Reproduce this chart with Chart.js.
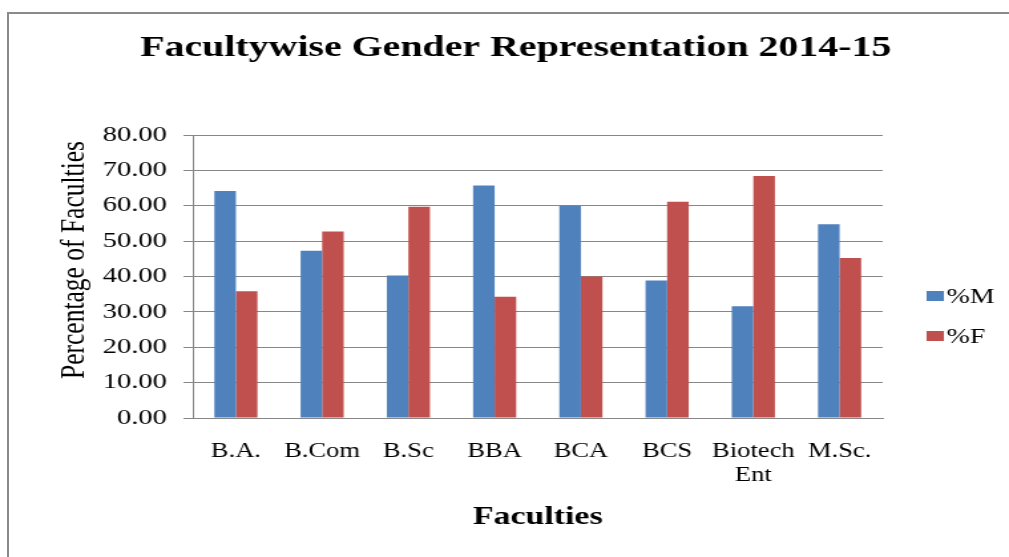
<!DOCTYPE html>
<html>
<head>
<meta charset="utf-8">
<title>Facultywise Gender Representation 2014-15</title>
<script src="https://cdn.jsdelivr.net/npm/chart.js@4.4.1/dist/chart.umd.min.js"></script>
<style>
    html, body { margin: 0; padding: 0; background: #fff; }
    #wrap { position: relative; width: 1009px; height: 557px; overflow: hidden; }
    #frame { position: absolute; left: 7px; top: 12px; width: 1040px; height: 600px; border: 2px solid #8a8a8a; box-sizing: border-box; }
    /* the original picture is a horizontally stretched Excel chart, so the
       canvas is drawn narrower and widened by css */
    #chart { position: absolute; left: 0; top: 0; width: 1009px; height: 557px; }
</style>
</head>
<body>
<div id="wrap">
    <div id="frame"></div>
    <canvas id="chart" width="759" height="557" style="width:1009px;height:557px"></canvas>
</div>
<script>
// Data
const chartTitle = 'Facultywise Gender Representation 2014-15';
const yAxisTitle = 'Percentage of Faculties';
const faculties = ['B.A.', 'B.Com', 'B.Sc', 'BBA', 'BCA', 'BCS', ['Biotech', 'Ent'], 'M.Sc.'];
const malePct = [64.2, 47.3, 40.3, 65.7, 60.0, 38.9, 31.6, 54.8];
const femalePct = [35.8, 52.7, 59.7, 34.3, 40.0, 61.1, 68.4, 45.2];
const seriesLabels = ['%M', '%F'];
const yMin = 0;
const yMax = 80;
const yStep = 10;

const serif = '"Liberation Serif", "Times New Roman", serif';
const gridGray = '#878787';

// Title + y axis title (the y title sits a bit above the plot centre in the original)
const titlePlugin = {
    id: 'titles',
    afterDraw(chart) {
        const ctx = chart.ctx;
        ctx.save();
        ctx.fillStyle = '#000';
        ctx.textAlign = 'center';
        ctx.textBaseline = 'middle';
        ctx.font = 'bold 30px ' + serif;
        ctx.fillText(chartTitle, 388, 48);

        ctx.font = '25.5px ' + serif;
        ctx.translate(56.5, 260);
        ctx.rotate(-Math.PI / 2);
        ctx.fillText(yAxisTitle, 0, 0);
        ctx.restore();
    }
};

// Legend on the right, placed like the original
const legendPlugin = {
    id: 'sideLegend',
    afterDraw(chart) {
        const ctx = chart.ctx;
        ctx.save();
        ctx.font = '21px ' + serif;
        ctx.textBaseline = 'middle';
        chart.data.datasets.forEach((ds, i) => {
            const y = 296 + i * 40;
            ctx.fillStyle = ds.backgroundColor;
            ctx.fillRect(697, y - 5, 13, 10);
            ctx.fillStyle = '#000';
            ctx.fillText(ds.label, 712, y + 1);
        });
        ctx.restore();
    }
};

new Chart(document.getElementById('chart'), {
    type: 'bar',
    data: {
        labels: faculties,
        datasets: [
            { label: seriesLabels[0], data: malePct, backgroundColor: '#4F81BD', borderWidth: 0 },
            { label: seriesLabels[1], data: femalePct, backgroundColor: '#C0504D', borderWidth: 0 }
        ]
    },
    options: {
        responsive: false,
        animation: false,
        layout: { padding: { top: 135, right: 95, left: 0, bottom: 0 } },
        datasets: { bar: { categoryPercentage: 0.5, barPercentage: 1.0 } },
        plugins: {
            legend: { display: false },
            title: { display: false },
            tooltip: { enabled: false }
        },
        scales: {
            x: {
                grid: { display: false },
                border: { display: true, color: gridGray, width: 1 },
                ticks: { color: '#000', font: { family: serif, size: 20 }, padding: 14, maxRotation: 0, autoSkip: false },
                title: { display: true, text: 'Faculties', color: '#000', font: { family: serif, size: 25.5, weight: 'bold' }, padding: { top: 0, bottom: 24 } },
                afterFit(scale) { scale.height = 139; }
            },
            y: {
                min: yMin,
                max: yMax,
                grid: { color: gridGray, lineWidth: 1, tickLength: 7, drawTicks: true },
                border: { display: true, color: gridGray, width: 1 },
                ticks: {
                    stepSize: yStep,
                    color: '#000',
                    font: { family: serif, size: 21.5 },
                    padding: 12.5,
                    callback: v => Number(v).toFixed(2)
                },
                title: { display: false },
                afterFit(scale) { scale.width = 145; }
            }
        }
    },
    plugins: [titlePlugin, legendPlugin]
});
</script>
</body>
</html>
